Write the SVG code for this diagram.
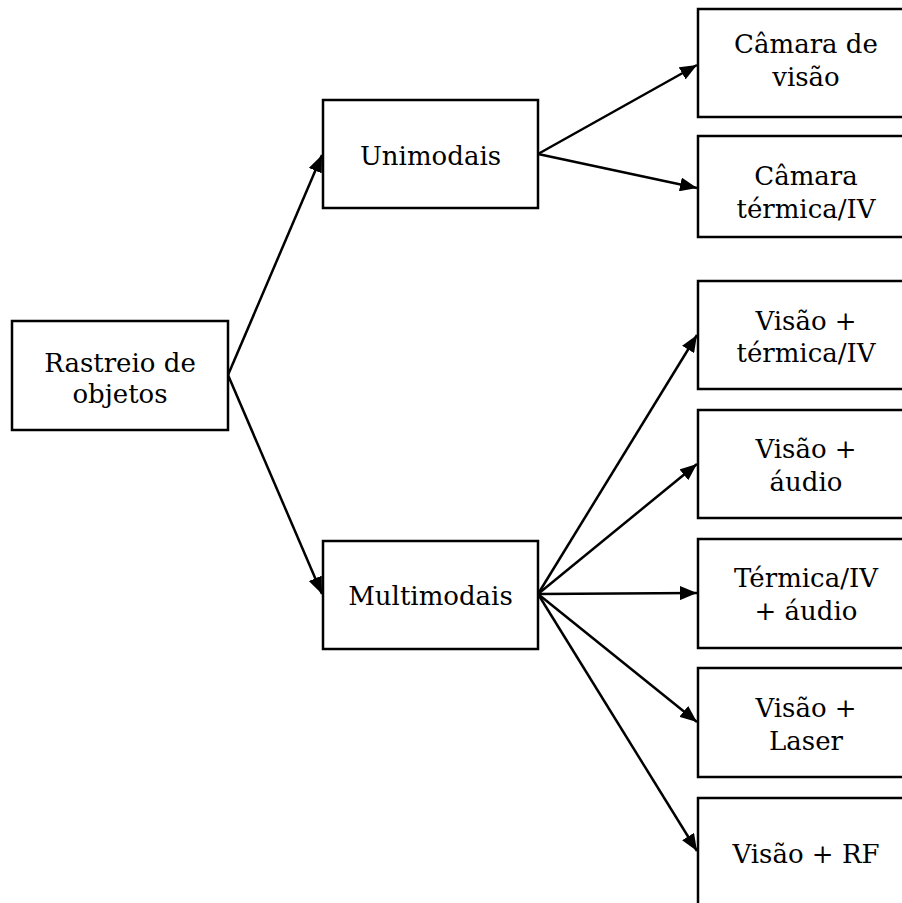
<svg xmlns="http://www.w3.org/2000/svg" width="902" height="903" viewBox="0 0 902 903">
  <style>
    .box { fill: #fff; stroke: #000; stroke-width: 2.5; }
    .lbl { font-family: "DejaVu Serif", "Liberation Serif", serif; font-size: 26px; fill: #000; text-anchor: middle; }
    .edge { stroke: #000; stroke-width: 2.5; fill: none; marker-end: url(#arrow); }
  </style>
  <defs>
    <marker id="arrow" markerUnits="userSpaceOnUse" markerWidth="18" markerHeight="14" refX="17" refY="7" orient="auto">
      <path d="M0,0 L17,7 L0,14 z" fill="#000"/>
    </marker>
  </defs>
  <rect width="902" height="903" fill="#fff"/>

  <g id="connectors">
    <line class="edge" x1="228" y1="375" x2="322" y2="155"/>
    <line class="edge" x1="228" y1="375" x2="322" y2="594"/>
    <line class="edge" x1="538" y1="154" x2="697" y2="65"/>
    <line class="edge" x1="538" y1="154" x2="697" y2="188"/>
    <line class="edge" x1="538" y1="594" x2="697" y2="335"/>
    <line class="edge" x1="538" y1="594" x2="697" y2="464"/>
    <line class="edge" x1="538" y1="594" x2="697" y2="593"/>
    <line class="edge" x1="538" y1="594" x2="697" y2="722"/>
    <line class="edge" x1="538" y1="594" x2="697" y2="851"/>
  </g>

  <g id="rastreio">
    <rect class="box" x="12" y="321" width="216" height="109"/>
    <text class="lbl" x="120" y="372">Rastreio de</text>
    <text class="lbl" x="120" y="403">objetos</text>
  </g>

  <g id="unimodais">
    <rect class="box" x="323" y="100" width="215" height="108"/>
    <text class="lbl" x="430.5" y="165">Unimodais</text>
  </g>

  <g id="multimodais">
    <rect class="box" x="323" y="541" width="215" height="108"/>
    <text class="lbl" x="430.5" y="605">Multimodais</text>
  </g>

  <g id="camara-visao">
    <rect class="box" x="698" y="9" width="216" height="108"/>
    <text class="lbl" x="806" y="53">Câmara de</text>
    <text class="lbl" x="806" y="86">visão</text>
  </g>

  <g id="camara-termica">
    <rect class="box" x="698" y="136" width="216" height="101"/>
    <text class="lbl" x="806" y="185">Câmara</text>
    <text class="lbl" x="806" y="218">térmica/IV</text>
  </g>

  <g id="visao-termica">
    <rect class="box" x="698" y="281" width="216" height="108"/>
    <text class="lbl" x="806" y="330">Visão +</text>
    <text class="lbl" x="806" y="362">térmica/IV</text>
  </g>

  <g id="visao-audio">
    <rect class="box" x="698" y="410" width="216" height="108"/>
    <text class="lbl" x="806" y="458">Visão +</text>
    <text class="lbl" x="806" y="491">áudio</text>
  </g>

  <g id="termica-audio">
    <rect class="box" x="698" y="539" width="216" height="109"/>
    <text class="lbl" x="806" y="587">Térmica/IV</text>
    <text class="lbl" x="806" y="620">+ áudio</text>
  </g>

  <g id="visao-laser">
    <rect class="box" x="698" y="668" width="216" height="109"/>
    <text class="lbl" x="806" y="717">Visão +</text>
    <text class="lbl" x="806" y="750">Laser</text>
  </g>

  <g id="visao-rf">
    <rect class="box" x="698" y="798" width="216" height="108"/>
    <text class="lbl" x="806" y="863">Visão + RF</text>
  </g>
</svg>
